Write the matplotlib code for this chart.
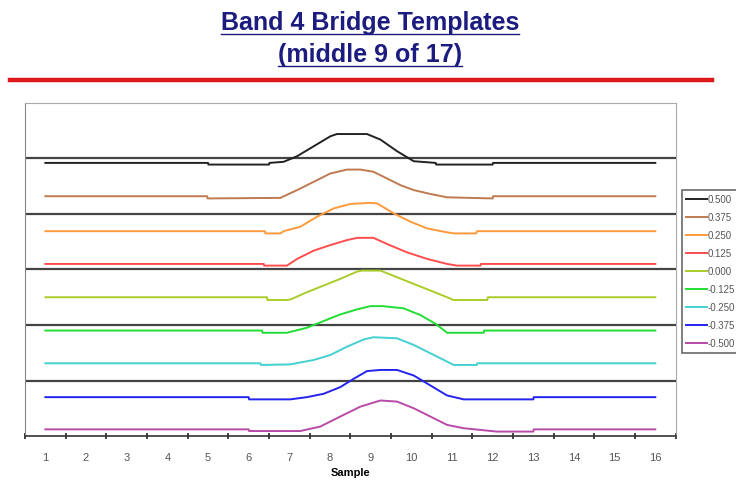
import matplotlib
matplotlib.use("Agg")
import matplotlib.pyplot as plt
from matplotlib.lines import Line2D

plt.rcParams['font.family'] = ['Liberation Sans', 'DejaVu Sans']

# template labels (fractional shift) and vertical stacking offsets
labels = ["0.500", "0.375", "0.250", "0.125", "0.000",
          "-0.125", "-0.250", "-0.375", "-0.500"]
offsets = [4.92, 4.32, 3.69, 3.10, 2.50, 1.90, 1.31, 0.70, 0.12]
colors = ["#222222", "#c07a50", "#ff9a3c", "#ff4d4d", "#aacc2a",
          "#22dd33", "#44d0d0", "#2424ee", "#b84aa8"]

# curve shapes: sample position, height above offset
x_500 = [1, 5.0, 5.01, 6.5, 6.51, 6.86, 7.19, 7.6, 8.01, 8.17, 8.91, 9.24, 9.65, 10.06, 10.6, 10.61, 12.0, 12.01, 16]
y_500 = [0, 0, -0.03, -0.03, 0, 0.02, 0.12, 0.30, 0.48, 0.52, 0.52, 0.42, 0.21, 0.03, 0, -0.03, -0.03, 0, 0]

x_375 = [1, 4.98, 4.99, 6.78, 7.19, 7.6, 8.01, 8.42, 8.75, 9.07, 9.4, 9.73, 10.06, 10.47, 10.88, 12.0, 12.01, 16]
y_375 = [0, 0, -0.04, -0.03, 0.11, 0.26, 0.41, 0.48, 0.48, 0.44, 0.32, 0.20, 0.11, 0.04, -0.02, -0.04, 0, 0]

x_250 = [1, 6.4, 6.41, 6.78, 6.86, 7.27, 7.68, 8.09, 8.5, 8.99, 9.16, 9.57, 9.98, 10.39, 10.8, 11.04, 11.6, 11.61, 16]
y_250 = [0, 0, -0.04, -0.04, 0, 0.08, 0.26, 0.41, 0.49, 0.51, 0.50, 0.32, 0.17, 0.05, -0.01, -0.04, -0.04, 0, 0]

x_125 = [1, 6.37, 6.38, 6.94, 7.19, 7.6, 8.01, 8.42, 8.67, 9.07, 9.4, 9.89, 10.39, 10.88, 11.12, 11.7, 11.71, 16]
y_125 = [0, 0, -0.03, -0.03, 0.09, 0.24, 0.34, 0.43, 0.47, 0.47, 0.36, 0.21, 0.09, 0, -0.03, -0.03, 0, 0]

x_000 = [1, 6.45, 6.46, 6.94, 7.03, 7.43, 7.84, 8.25, 8.66, 8.78, 9.24, 9.65, 10.06, 10.47, 10.88, 11.04, 11.87, 11.88, 16]
y_000 = [0, 0, -0.05, -0.05, -0.04, 0.09, 0.21, 0.33, 0.46, 0.48, 0.48, 0.36, 0.24, 0.12, 0, -0.05, -0.05, 0, 0]

x_m125 = [1, 6.33, 6.34, 6.94, 7.43, 7.84, 8.25, 8.66, 8.99, 9.3, 9.81, 10.22, 10.6, 10.88, 11.78, 11.79, 16]
y_m125 = [0, 0, -0.04, -0.04, 0.05, 0.17, 0.29, 0.38, 0.44, 0.44, 0.40, 0.28, 0.12, -0.04, -0.04, 0, 0]

x_m250 = [1, 6.29, 6.3, 7.02, 7.6, 8.01, 8.42, 8.83, 9.07, 9.65, 10.06, 10.47, 10.88, 11.04, 11.61, 11.62, 16]
y_m250 = [0, 0, -0.03, -0.02, 0.06, 0.15, 0.30, 0.43, 0.47, 0.45, 0.33, 0.18, 0.03, -0.03, -0.03, 0, 0]

x_m375 = [1, 6.0, 6.01, 7.02, 7.43, 7.84, 8.25, 8.58, 8.91, 9.24, 9.65, 10.06, 10.47, 10.88, 11.29, 13.0, 13.01, 16]
y_m375 = [0, 0, -0.04, -0.04, 0.0, 0.06, 0.18, 0.33, 0.47, 0.49, 0.49, 0.39, 0.21, 0.03, -0.04, -0.04, 0, 0]

x_m500 = [1, 6.0, 6.01, 7.27, 7.76, 8.25, 8.75, 9.24, 9.65, 10.06, 10.47, 10.88, 11.29, 11.7, 12.1, 13.0, 13.01, 16]
y_m500 = [0, 0, -0.03, -0.03, 0.05, 0.23, 0.41, 0.52, 0.50, 0.38, 0.23, 0.08, 0.02, -0.01, -0.04, -0.04, 0, 0]

xs = [x_500, x_375, x_250, x_125, x_000, x_m125, x_m250, x_m375, x_m500]
ys = [y_500, y_375, y_250, y_125, y_000, y_m125, y_m250, y_m375, y_m500]

samples = list(range(1, 17))

fig = plt.figure(figsize=(7.36, 4.82), dpi=100)
ax = fig.add_axes([0.034, 0.0954, 0.884, 0.691])

for y in [1, 2, 3, 4, 5]:
    ax.axhline(y, color="#444444", lw=1.6, zorder=1)

for i in range(len(labels)):
    ax.plot(xs[i], [v + offsets[i] for v in ys[i]], color=colors[i],
            lw=1.4, label=labels[i], zorder=3)

ax.set_xlim(0.5, 16.5)
ax.set_ylim(0, 6)
ax.set_yticks([])
ax.set_xticks(samples)
ax.set_xticklabels([str(s) for s in samples], fontsize=8, color="#555555")
ax.set_xticks([s + 0.5 for s in range(0, 17)], minor=True)
ax.tick_params(axis="x", which="major", length=0, pad=12)
ax.tick_params(axis="x", which="minor", length=4, width=1.2, color="#222222", direction="inout")
ax.set_xlabel("Sample", fontsize=8, fontweight="bold", labelpad=4)

for side in ["top", "right"]:
    ax.spines[side].set_color("#aaaaaa")
for side in ["left", "bottom"]:
    ax.spines[side].set_color("#888888")
ax.spines["bottom"].set_color("#333333")
ax.spines["bottom"].set_linewidth(1.2)

leg = fig.legend(loc="upper left", bbox_to_anchor=(0.926, 0.606), fontsize=7,
                 frameon=True, fancybox=False, handlelength=2.1, handletextpad=0.1,
                 labelspacing=0.82, borderpad=0.5, borderaxespad=0,
                 labelcolor="#555555")
leg.get_frame().set_edgecolor("#444444")
leg.get_frame().set_linewidth(1.2)

t1 = fig.text(0.503, 0.952, "Band 4 Bridge Templates", ha="center", va="center",
              fontsize=18, fontweight="bold", color="#1c1c80")
t2 = fig.text(0.503, 0.885, "(middle 9 of 17)", ha="center", va="center",
              fontsize=18, fontweight="bold", color="#1c1c80")

fig.canvas.draw()
for t in [t1, t2]:
    bb = t.get_window_extent().transformed(fig.transFigure.inverted())
    yline = bb.y0 + 0.003
    fig.add_artist(Line2D([bb.x0, bb.x1], [yline, yline], transform=fig.transFigure,
                          color="#1c1c80", lw=1.0))

fig.add_artist(Line2D([0.014, 0.968], [0.834, 0.834], transform=fig.transFigure,
                      color="#dd1a1a", lw=3.2))

fig.savefig("out.png", dpi=100)
